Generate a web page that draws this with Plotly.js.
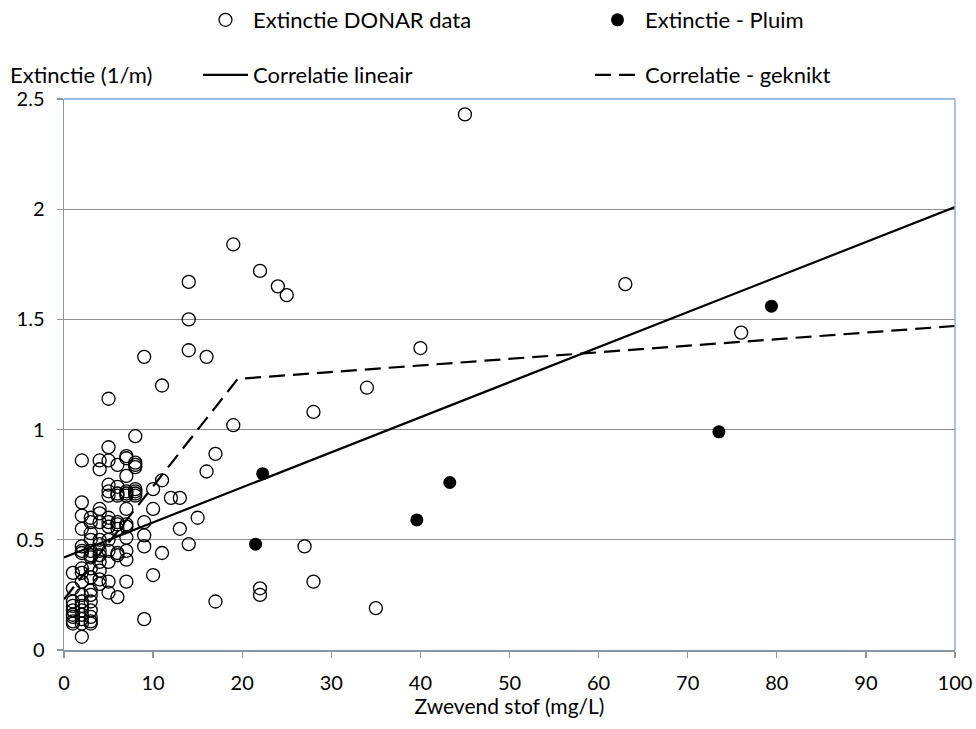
<!DOCTYPE html>
<html>
<head>
<meta charset="utf-8">
<script src="https://cdn.plot.ly/plotly-3.0.1.min.js"></script>
<style>body{margin:0;padding:0;background:#fff}#chart{width:976px;height:729px}</style>
</head>
<body>
<div id="chart"></div>
<script>
// Extinctie DONAR data (open circles)
const donarX = [
  1,1,1,1,1,1,1,1,1,
  2,2,2,2,2,2,2,2,2,2,2,2,2,2,2,2,2,2,
  3,3,3,3,3,3,3,3,3,3,3,3,3,3,3,3,
  4,4,4,4,4,4,4,4,4,4,4,4,4,
  5,5,5,5,5,5,5,5,5,5,5,5,5,5,
  6,6,6,6,6,6,6,6,6,6,
  7,7,7,7,7,7,7,7,7,7,7,7,7,
  8,8,8,8,8,8,8,8,
  9,9,9,9,9,
  10,10,10,
  11,11,11,
  12,
  13,13,
  14,14,14,14,
  15,
  16,16,
  17,17,
  19,19,
  22,22,22,
  24,25,27,28,28,34,35,40,45,63,76
];
const donarY = [
  0.35,0.28,0.22,0.20,0.18,0.16,0.15,0.13,0.12,
  0.86,0.67,0.61,0.55,0.47,0.45,0.44,0.37,0.35,0.31,0.25,0.22,0.20,0.18,0.16,0.14,0.12,0.06,
  0.60,0.58,0.53,0.50,0.45,0.43,0.42,0.37,0.33,0.27,0.25,0.22,0.18,0.15,0.13,0.12,
  0.86,0.82,0.64,0.62,0.58,0.50,0.48,0.45,0.43,0.40,0.36,0.32,0.30,
  1.14,0.92,0.86,0.75,0.72,0.70,0.60,0.58,0.56,0.50,0.45,0.40,0.31,0.26,
  0.84,0.74,0.71,0.70,0.58,0.57,0.55,0.44,0.43,0.24,
  0.88,0.87,0.79,0.72,0.71,0.70,0.64,0.57,0.56,0.51,0.45,0.41,0.31,
  0.97,0.85,0.84,0.83,0.73,0.72,0.71,0.70,
  1.33,0.58,0.52,0.47,0.14,
  0.73,0.64,0.34,
  1.20,0.77,0.44,
  0.69,
  0.69,0.55,
  1.67,1.50,1.36,0.48,
  0.60,
  1.33,0.81,
  0.89,0.22,
  1.84,1.02,
  1.72,0.28,0.25,
  1.65,1.61,0.47,1.08,0.31,1.19,0.19,1.37,2.43,1.66,1.44
];
// Extinctie - Pluim (filled circles)
const pluimX = [21.5, 22.3, 39.6, 43.3, 73.5, 79.4];
const pluimY = [0.48, 0.80, 0.59, 0.76, 0.99, 1.56];
// Correlatie lineair
const linX = [0, 100];
const linY = [0.42, 2.01];
// Correlatie - geknikt
const knikX = [0, 19.5, 100];
const knikY = [0.23, 1.23, 1.47];
// Axis ticks
const xTicks = [0,10,20,30,40,50,60,70,80,90,100];
const yTicks = [0,0.5,1,1.5,2,2.5];
const yTickText = ['0','0.5','1','1.5','2','2.5'];

const FONT = 'Lato, Open Sans, sans-serif';
const tf = {family:FONT, size:22, color:'#000'};
const xtf = {family:FONT, size:21, color:'#000'};
const tickf = {family:FONT, size:20, color:'#000'};

const traces = [
  {x: donarX, y: donarY, type:'scatter', mode:'markers', name:'Extinctie DONAR data', legend:'legend',
   marker:{symbol:'circle-open', size:13, color:'#000', line:{width:1.3, color:'#000'}}},
  {x: pluimX, y: pluimY, type:'scatter', mode:'markers', name:'Extinctie - Pluim', legend:'legend2',
   marker:{symbol:'circle', size:13, color:'#000'}},
  {x: linX, y: linY, type:'scatter', mode:'lines', name:'Correlatie lineair', legend:'legend3',
   line:{color:'#000', width:2.2}},
  {x: knikX, y: knikY, type:'scatter', mode:'lines', name:'Correlatie - geknikt', legend:'legend4',
   line:{color:'#000', width:2.2, dash:'16px,8px'}}
];

function lg(x, y) {
  return {xref:'container', yref:'container', x:x, y:y, xanchor:'left', yanchor:'middle',
          orientation:'h', font:tf, bgcolor:'rgba(0,0,0,0)', borderwidth:0, itemwidth:45};
}

const layout = {
  width: 976, height: 729,
  margin: {l:64, r:21, t:99, b:79},
  paper_bgcolor:'#fff', plot_bgcolor:'#fff',
  font:tf,
  showlegend: true,
  legend: lg(198/976, 1 - 20/729),
  legend2: lg(590/976, 1 - 20/729),
  legend3: lg(198/976, 1 - 75/729),
  legend4: lg(590/976, 1 - 75/729),
  xaxis: {range:[0,100], tickvals:xTicks, ticks:'outside', ticklen:6, tickcolor:'#8c96a0', tickwidth:1.3,
          showline:true, linecolor:'#8c96a0', linewidth:1.5, showgrid:false, zeroline:false,
          tickfont:tickf, ticklabelstandoff:8,
          title:{text:'Zwevend stof (mg/L)', font:xtf, standoff:6}},
  yaxis: {range:[0,2.5], tickvals:yTicks, ticktext:yTickText, ticks:'outside', ticklen:6, tickcolor:'#8c96a0', tickwidth:1.3,
          showline:true, linecolor:'#8c96a0', linewidth:1.5, showgrid:true, gridcolor:'#8c8c8c', gridwidth:1,
          zeroline:false, tickfont:tickf, ticklabelstandoff:8},
  shapes: [
    {type:'line', xref:'paper', yref:'paper', x0:0, x1:1, y0:1, y1:1, line:{color:'#7aa3d8', width:1.3}},
    {type:'line', xref:'paper', yref:'paper', x0:1, x1:1, y0:0, y1:1, line:{color:'#7aa3d8', width:1.3}}
  ],
  annotations: [
    {text:'Extinctie (1/m)', xref:'paper', yref:'paper', x:-56/891, y:1 + 25/551, xanchor:'left', yanchor:'middle',
     showarrow:false, font:tf}
  ]
};

Plotly.newPlot('chart', traces, layout, {displayModeBar:false, staticPlot:true});
</script>
</body>
</html>
